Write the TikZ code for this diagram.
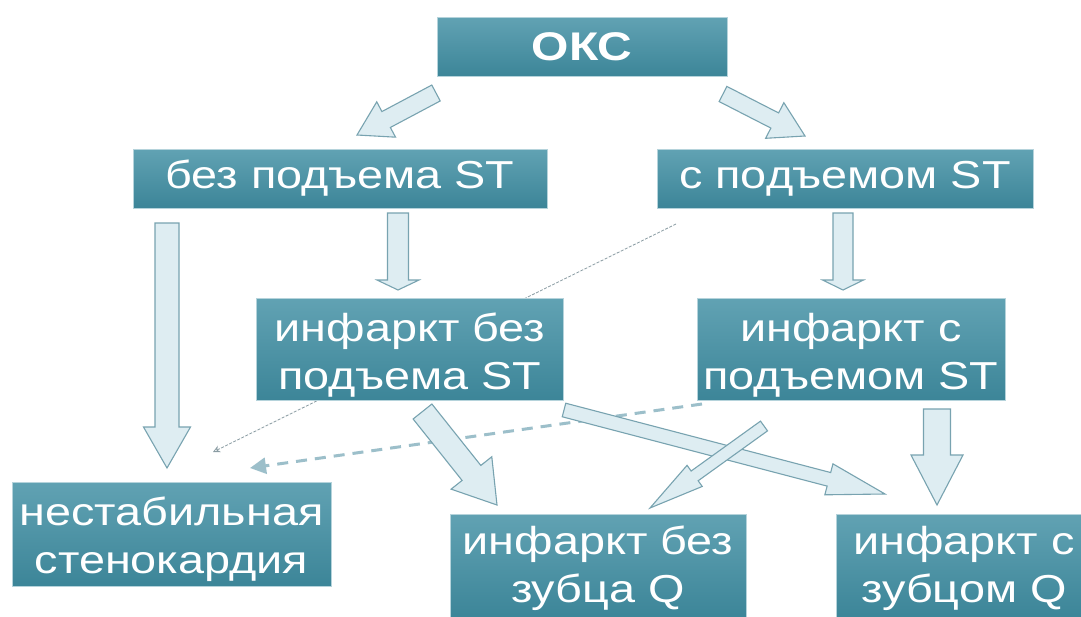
\documentclass[tikz,border=0pt]{standalone}
\usepackage{fontspec}
\setmainfont{Liberation Sans}[FakeStretch=1.2]
\usetikzlibrary{calc,arrows.meta}
\definecolor{boxtop}{HTML}{61A2B3}
\definecolor{boxbot}{HTML}{3C8598}
\definecolor{boxedge}{HTML}{B5D3DB}
\definecolor{arrfill}{HTML}{DEEDF2}
\definecolor{arredge}{HTML}{78A3B0}
\definecolor{dashcol}{HTML}{9CBFCA}
\definecolor{thincol}{HTML}{8A9CA3}
\tikzset{
  box/.style={draw=boxedge, line width=0.8pt, top color=boxtop, bottom color=boxbot,
    text=white, align=center, inner sep=0pt, font=\fontsize{39}{48}\selectfont},
  boxtext/.style={text=white, align=center, inner sep=0pt, font=\fontsize{39}{48}\selectfont},
  blockarr/.style={fill=arrfill, draw=arredge, line width=1.1pt, line join=miter},
}
% #1 start, #2 tip, #3 half shaft width, #4 half head width, #5 head length
\newcommand\blockarrow[5]{%
  \coordinate (ba-h) at ($(#2)!#5!(#1)$);
  \draw[blockarr] ($(#1)!#3!90:(#2)$) -- ($(ba-h)!#3!90:(#2)$) -- ($(ba-h)!#4!90:(#2)$)
    -- (#2) -- ($(ba-h)!#4!-90:(#2)$) -- ($(ba-h)!#3!-90:(#2)$) -- ($(#1)!#3!-90:(#2)$) -- cycle;
}
\begin{document}
\begin{tikzpicture}[x=1pt,y=-1pt]
\useasboundingbox (0,0) rectangle (1081,616);
\fill[white] (0,0) rectangle (1081,616);
\clip (0,0) rectangle (1081,616);

% dashed connectors (behind boxes)
\coordinate (d1s) at (676,224);
\coordinate (d1e) at (213,452);
\draw[thincol, line width=0.8pt, dash pattern=on 3pt off 1.5pt,
  -{Stealth[open,length=7pt,width=7pt]}] (d1s) -- (d1e);
\coordinate (d2s) at (702,404);
\coordinate (d2e) at (250,468);
\draw[dashcol, line width=3pt, dash pattern=on 11pt off 8pt,
  -{Triangle[length=16pt,width=16pt]}] (d2s) -- (d2e);

% boxes
\node[box, minimum width=290pt, minimum height=59pt, font=\fontsize{40}{48}\selectfont\bfseries] (oks) at (582,47) {ОКС};
\node[box, minimum width=414pt, minimum height=59pt] (bez) at (340,178.5) {без подъема ST};
\node[box, minimum width=376pt, minimum height=59pt] (spod) at (845,178.5) {с подъемом ST};
\node[box, minimum width=307pt, minimum height=102pt] (ibez) at (410,349.5) {};
\node[boxtext] (ibez-t) at ([yshift=-6pt]ibez.center) {инфаркт без\\подъема ST};
\node[box, minimum width=308pt, minimum height=102pt] (ispod) at (851,349.5) {};
\node[boxtext] (ispod-t) at ([yshift=-6pt]ispod.center) {инфаркт с\\подъемом ST};
\node[box, minimum width=319pt, minimum height=104pt] (nest) at (171.5,534) {};
\node[boxtext] (nest-t) at ([yshift=-5pt]nest.center) {нестабильная\\стенокардия};
\node[box, minimum width=296pt, minimum height=104pt] (ibq) at (598,566) {};
\node[boxtext] (ibq-t) at ([yshift=-2pt]ibq.center) {инфаркт без\\зубца Q};
\node[box, minimum width=256pt, minimum height=104pt] (isq) at (964,566) {};
\node[boxtext] (isq-t) at ([yshift=-2pt]isq.center) {инфаркт с\\зубцом Q};

% block arrows
\coordinate (a1s) at (436,93);   \coordinate (a1e) at (357,135);
\coordinate (a2s) at (723,94);   \coordinate (a2e) at (805,136);
\coordinate (a3s) at (167,223);  \coordinate (a3e) at (167,468);
\coordinate (a4s) at (398,213);  \coordinate (a4e) at (398,290);
\coordinate (a5s) at (843,213);  \coordinate (a5e) at (843,290);
\coordinate (a6s) at (422.5,411.5); \coordinate (a6e) at (497,505);
\coordinate (a7s) at (564,410);  \coordinate (a7e) at (885,494);
\coordinate (a8s) at (764,426);  \coordinate (a8e) at (650,508);
\coordinate (a9s) at (937,409);  \coordinate (a9e) at (937,505);

\blockarrow{a1s}{a1e}{9pt}{20pt}{33pt}
\blockarrow{a2s}{a2e}{8.5pt}{20pt}{34pt}
\blockarrow{a3s}{a3e}{12pt}{23.5pt}{41pt}
\blockarrow{a4s}{a4e}{10.5pt}{21pt}{10pt}
\blockarrow{a5s}{a5e}{10pt}{20.5pt}{10pt}
\blockarrow{a6s}{a6e}{12pt}{26pt}{41pt}
\blockarrow{a7s}{a7e}{7pt}{16pt}{58pt}
\blockarrow{a8s}{a8e}{6pt}{13pt}{55pt}
\blockarrow{a9s}{a9e}{13.5pt}{26pt}{50pt}
\end{tikzpicture}
\end{document}
